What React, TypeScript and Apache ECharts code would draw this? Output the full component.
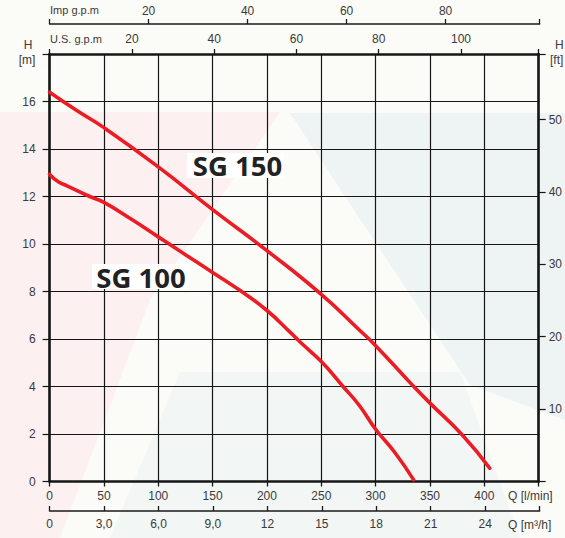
import React, { useEffect, useRef } from "react";
import * as echarts from "echarts";

// Pump curves: flow Q [l/min] vs head H [m]
const flowSG100 = [0, 8, 16, 37, 50, 75, 100, 125, 150, 175, 200, 221, 231, 250, 270, 285, 300, 318, 335];
const headSG100 = [12.93, 12.62, 12.45, 12.0, 11.75, 11.05, 10.3, 9.55, 8.8, 8.05, 7.2, 6.3, 5.85, 5.05, 4.0, 3.2, 2.2, 1.2, 0.07];

const flowSG150 = [0, 25, 50, 100, 150, 200, 250, 285, 300, 333, 350, 380, 405];
const headSG150 = [16.39, 15.62, 14.9, 13.25, 11.45, 9.72, 7.88, 6.38, 5.72, 4.1, 3.3, 1.95, 0.56];

const seriesNames = ["SG 100", "SG 150"];

// Axis ranges and tick steps
const Q_MAX_LMIN = 450;
const Q_STEP_LMIN = 50;
const H_MAX_M = 18;
const H_STEP_M = 2;
const M3H_STEP = 3;
const USGPM_STEP = 20;
const IMPGPM_STEP = 20;
const FT_STEP = 10;

// Unit conversions
const LMIN_PER_M3H = 1000 / 60;
const LMIN_PER_USGPM = 3.78541;
const LMIN_PER_IMPGPM = 4.54609;
const FT_PER_M = 3.28084;

const axisTitles = {
  lmin: "Q [l/min]",
  m3h: "Q [m\u00B3/h]",
  us: "U.S. g.p.m",
  imp: "Imp g.p.m",
  hm: ["H", "[m]"],
  hft: ["H", "[ft]"],
};

const FONT = "Liberation Sans, Arial, Helvetica, sans-serif";
const TXT = "#3a3a3a";
const LINE = "#161616";
const RED = "#ec1c24";

function zip(xs: number[], ys: number[]) {
  return xs.map((x, i) => [x, ys[i]]);
}

const isMult = (v: number, s: number) => Math.abs(v / s - Math.round(v / s)) < 1e-6;

export default function App() {
  const ref = useRef<HTMLDivElement>(null);
  const overlayRef = useRef<HTMLDivElement>(null);

  useEffect(() => {
    document.body.style.margin = "0";
    const chart = echarts.init(ref.current!, null, { renderer: "svg" });

    const labelStyle = { color: TXT, fontFamily: FONT, fontSize: 12 };
    const gridLR = { left: 49.6, right: 25.4 };
    const M3H_MAX = Q_MAX_LMIN / LMIN_PER_M3H;
    const IMP_MAX = Q_MAX_LMIN / LMIN_PER_IMPGPM;

    const option: any = {
      animation: false,
      backgroundColor: "transparent",
      grid: [
        { ...gridLR, top: 54, bottom: 56.5, containLabel: false },
        { ...gridLR, top: 510, height: 1, containLabel: false },
        { ...gridLR, top: 24, height: 1, containLabel: false },
      ],
      xAxis: [
        {
          type: "value", gridIndex: 0, position: "bottom", min: 0, max: Q_MAX_LMIN, interval: Q_STEP_LMIN,
          axisLine: { show: true, onZero: false, lineStyle: { color: LINE, width: 2.6 } },
          axisTick: { show: true, length: 5, lineStyle: { color: LINE, width: 1.3 } },
          axisLabel: { ...labelStyle, margin: 8, formatter: (v: number) => (v >= Q_MAX_LMIN ? "" : String(v)) },
          splitLine: { show: true, lineStyle: { color: LINE, width: 1.2 } },
        },
        {
          type: "value", gridIndex: 1, position: "bottom", min: 0, max: M3H_MAX, interval: M3H_STEP,
          axisLine: { show: true, onZero: false, lineStyle: { color: "#1a1a1a", width: 1.6 } },
          axisTick: { show: true, inside: true, length: 5, lineStyle: { color: "#1a1a1a", width: 1.3 } },
          axisLabel: {
            ...labelStyle, margin: 7,
            formatter: (v: number) => {
              if (v >= M3H_MAX - 1e-6) return "";
              if (v === 0) return "0";
              if (v < 10) return v.toFixed(1).replace(".", ",");
              return String(Math.round(v));
            },
          },
          splitLine: { show: false },
        },
        {
          type: "value", gridIndex: 0, position: "top", min: 0, max: Q_MAX_LMIN / LMIN_PER_USGPM, interval: USGPM_STEP,
          axisLine: { show: true, onZero: false, lineStyle: { color: LINE, width: 2.6 } },
          axisTick: { show: true, length: 5, lineStyle: { color: LINE, width: 1.3 } },
          axisLabel: { ...labelStyle, margin: 9, formatter: (v: number) => (v > 0 && isMult(v, USGPM_STEP) ? String(Math.round(v)) : "") },
          splitLine: { show: false },
        },
        {
          type: "value", gridIndex: 2, position: "top", min: 0, max: IMP_MAX, interval: IMPGPM_STEP,
          axisLine: { show: true, onZero: false, lineStyle: { color: "#1a1a1a", width: 1.6 } },
          axisTick: { show: true, length: 5, lineStyle: { color: "#1a1a1a", width: 1.3 } },
          axisLabel: { ...labelStyle, margin: 7, formatter: (v: number) => (v > 0 && isMult(v, IMPGPM_STEP) ? String(Math.round(v)) : "") },
          splitLine: { show: false },
        },
      ],
      yAxis: [
        {
          type: "value", gridIndex: 0, position: "left", min: 0, max: H_MAX_M, interval: H_STEP_M,
          axisLine: { show: true, onZero: false, lineStyle: { color: LINE, width: 2.6 } },
          axisTick: { show: true, length: 7, lineStyle: { color: LINE, width: 1.2 } },
          axisLabel: { ...labelStyle, margin: 14, formatter: (v: number) => (v >= H_MAX_M ? "" : String(v)) },
          splitLine: { show: true, lineStyle: { color: LINE, width: 1.2 } },
        },
        {
          type: "value", gridIndex: 0, position: "right", min: 0, max: H_MAX_M * FT_PER_M, interval: FT_STEP,
          axisLine: { show: true, onZero: false, lineStyle: { color: LINE, width: 2.6 } },
          axisTick: { show: true, length: 7, lineStyle: { color: LINE, width: 1.2 } },
          axisLabel: { ...labelStyle, margin: 10, formatter: (v: number) => (v > 0 && isMult(v, FT_STEP) ? String(Math.round(v)) : "") },
          splitLine: { show: false },
        },
        { type: "value", gridIndex: 1, show: false, min: 0, max: 1 },
        { type: "value", gridIndex: 2, show: false, min: 0, max: 1 },
      ],
      series: [
        {
          name: seriesNames[0], type: "line", xAxisIndex: 0, yAxisIndex: 0,
          data: zip(flowSG100, headSG100), smooth: 0.5, showSymbol: false, symbol: "none",
          lineStyle: { color: RED, width: 3.6, cap: "round" }, z: 5,
        },
        {
          name: seriesNames[1], type: "line", xAxisIndex: 0, yAxisIndex: 0,
          data: zip(flowSG150, headSG150), smooth: 0.5, showSymbol: false, symbol: "none",
          lineStyle: { color: RED, width: 3.6, cap: "round" }, z: 5,
        },
      ],
    };

    chart.setOption(option);

    // Overlay instance holding the titles and curve labels
    const overlay = echarts.init(overlayRef.current!, null, { renderer: "svg" });
    const t = (x: number, y: number, text: string, size: number, align = "left") => ({
      type: "text", z: 100, x, y,
      style: { text, fill: TXT, fontSize: size, fontFamily: FONT, align, verticalAlign: "middle" },
    });
    const seriesLabel = (x: number, y: number, text: string) => ({
      type: "text", z: 51, x, y,
      style: {
        text, fill: "#222222", fontSize: 27.5, fontWeight: "bold",
        fontFamily: "Open Sans, Noto Sans, sans-serif", align: "center", verticalAlign: "middle",
      },
    });
    overlay.setOption({
      animation: false,
      backgroundColor: "transparent",
      graphic: {
        elements: [
          t(50, 10, axisTitles.imp, 11),
          t(50, 39, axisTitles.us, 11),
          t(28, 45, axisTitles.hm[0], 12, "center"),
          t(27, 60, axisTitles.hm[1], 12, "center"),
          t(555, 45, axisTitles.hft[0], 12),
          t(550, 60, axisTitles.hft[1], 12),
          t(508, 496, axisTitles.lmin, 12),
          t(508, 525, axisTitles.m3h, 12),
          { type: "rect", z: 50, shape: { x: 187, y: 153, width: 97, height: 25 }, style: { fill: "#ffffff" } },
          seriesLabel(237.5, 165.5, seriesNames[1]),
          { type: "rect", z: 50, shape: { x: 92, y: 264, width: 97, height: 25 }, style: { fill: "#ffffff" } },
          seriesLabel(141, 277, seriesNames[0]),
        ],
      },
    });

    return () => {
      overlay.dispose();
      chart.dispose();
    };
  }, []);

  return (
    <div style={{ position: "relative", width: 565, height: 538, background: "#fbfbf7", overflow: "hidden" }}>
      <svg width={565} height={538} style={{ position: "absolute", left: 0, top: 0 }}>
        <polygon points="0,112 280,112 150,300 60,538 0,538" fill="#fcf1f0" />
        <polygon points="290,113 565,113 565,420 470,385" fill="#eef3f4" />
        <polygon points="180,372 460,372 520,538 110,538" fill="#f2f6f5" />
      </svg>
      <div ref={ref} style={{ position: "absolute", left: 0, top: 0, width: 565, height: 538 }} />
      <div ref={overlayRef} style={{ position: "absolute", left: 0, top: 0, width: 565, height: 538, pointerEvents: "none" }} />
    </div>
  );
}
